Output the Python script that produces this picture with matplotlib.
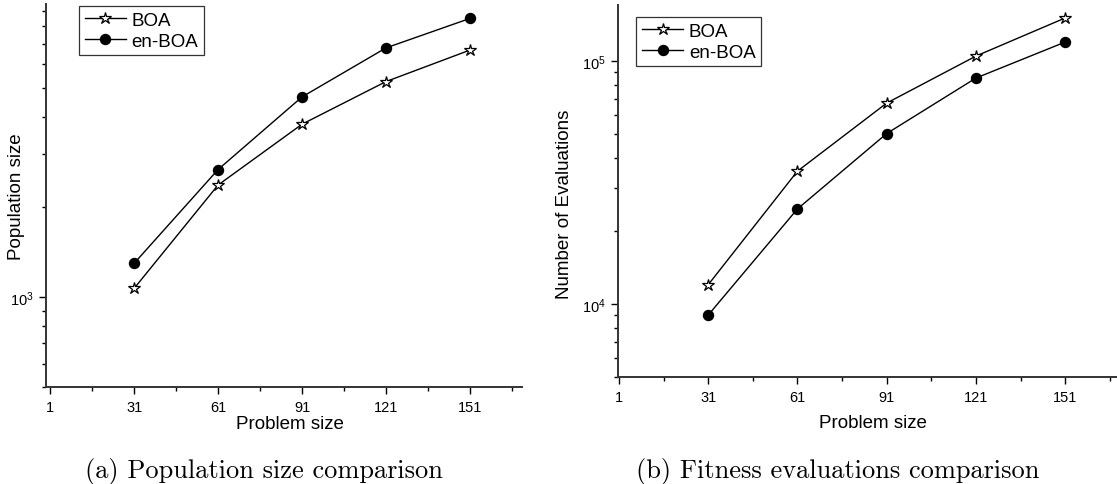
import numpy as np
import matplotlib
matplotlib.use('Agg')
import matplotlib.pyplot as plt
from matplotlib.ticker import FixedLocator, LogLocator, NullFormatter, LogFormatterSciNotation

plt.rcParams['font.family'] = ['Liberation Sans', 'DejaVu Sans']

# data
problem_size = [31, 61, 91, 121, 151]
pop_boa = [1069, 2365, 3773, 5235, 6668]
pop_enboa = [1296, 2664, 4653, 6780, 8503]
eval_boa = [12010, 35230, 67140, 104800, 150400]
eval_enboa = [9010, 24630, 50310, 85110, 119700]
x_ticks = [1, 31, 61, 91, 121, 151]
x_minor = [16, 46, 76, 106, 136, 166]

W, H = 1117, 485
fig = plt.figure(figsize=(W / 100, H / 100), dpi=100)


def px_axes(x0, y0, x1, y1):
    # pixel box (left, top, right, bottom) -> figure fraction
    return fig.add_axes([x0 / W, 1 - y1 / H, (x1 - x0) / W, (y1 - y0) / H])


def style(ax, ylim, xlim, ylabel, ylab_xy, xlab_xy, leg_xy):
    ax.set_yscale('log')
    ax.set_xlim(*xlim)
    ax.set_ylim(*ylim)
    for s in ('top', 'right'):
        ax.spines[s].set_visible(False)
    for s in ('left', 'bottom'):
        ax.spines[s].set_linewidth(1.4)
        ax.spines[s].set_color('#333333')
    ax.xaxis.set_major_locator(FixedLocator(x_ticks))
    ax.xaxis.set_minor_locator(FixedLocator(x_minor))
    ax.yaxis.set_major_locator(LogLocator(base=10))
    ax.yaxis.set_minor_locator(LogLocator(base=10, subs=np.arange(2, 10)))
    ax.yaxis.set_major_formatter(LogFormatterSciNotation())
    ax.yaxis.set_minor_formatter(NullFormatter())
    ax.tick_params(which='major', direction='out', length=4.8, width=1.0, labelsize=10.5, pad=4)
    ax.tick_params(which='minor', direction='out', length=3.0, width=1.0)
    ax.set_ylabel(ylabel, fontsize=13.5)
    ax.yaxis.set_label_coords(*ylab_xy)
    ax.set_xlabel('Problem size', fontsize=13.5, va='top')
    ax.xaxis.set_label_coords(*xlab_xy)
    leg = ax.legend(loc='upper left', bbox_to_anchor=leg_xy, fontsize=13.5,
                    frameon=True, fancybox=False, borderaxespad=0,
                    handlelength=2.2, handletextpad=0.3, labelspacing=0.2,
                    borderpad=0.3)
    leg.get_frame().set_edgecolor('black')
    leg.get_frame().set_linewidth(0.9)


def draw(ax, boa, enboa):
    ax.plot(problem_size, boa, color='black', lw=1.0, marker='*', ms=9,
            mfc='white', mec='black', mew=0.9, label='BOA')
    ax.plot(problem_size, enboa, color='black', lw=1.0, marker='o', ms=7.2,
            mfc='black', mec='black', label='en-BOA')


ax1 = px_axes(46, 5, 521.7, 388.3)
draw(ax1, pop_boa, pop_enboa)
style(ax1, (500, 9500), (-0.5, 169.5), 'Population size',
      (-0.044, 0.5), (0.513, -0.072), (33 / 475.7, 1 - 2 / 383.3))

ax2 = px_axes(618.3, 6, 1117, 378.3)
draw(ax2, eval_boa, eval_enboa)
style(ax2, (5000, 170000), (0.8, 168.4), 'Number of Evaluations',
      (-0.091, 0.467), (0.511, -0.0986), (18 / 498.7, 1 - 12 / 372.3))

fig.text(264 / W, 1 - 478 / H, '(a) Population size comparison', family='cmr10',
         fontsize=19, ha='center', va='baseline')
fig.text(838 / W, 1 - 478 / H, '(b) Fitness evaluations comparison', family='cmr10',
         fontsize=19, ha='center', va='baseline')

fig.savefig('out.png', dpi=100)
